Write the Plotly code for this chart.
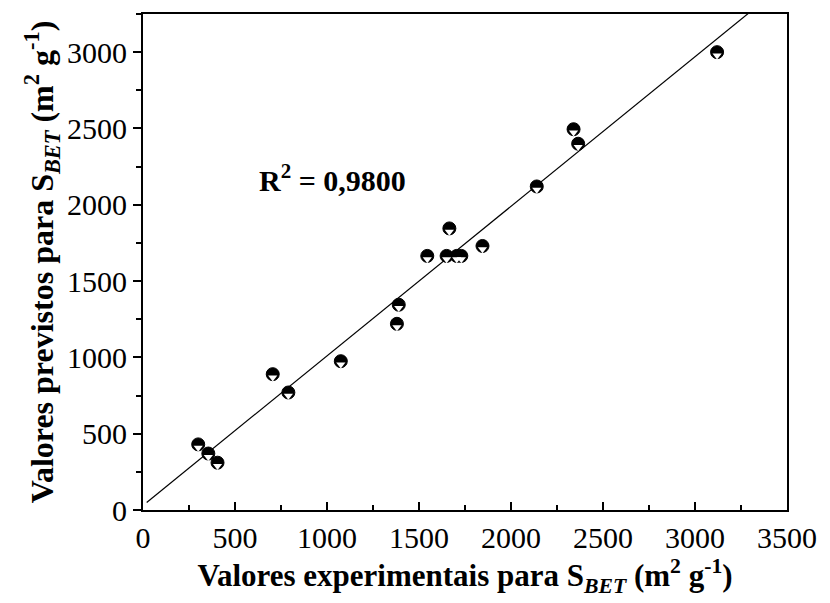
import plotly.graph_objects as go

# Data
exp_sbet = [300, 355, 405, 705, 790, 1075, 1380, 1390, 1545, 1650, 1665, 1705, 1730, 1845, 2140, 2340, 2365, 3120]
pred_sbet = [430, 370, 310, 890, 770, 975, 1220, 1345, 1665, 1665, 1845, 1665, 1665, 1730, 2120, 2495, 2400, 3000]

fit_slope = 0.98
fit_intercept = 30
fit_x = [20, 3290]
fit_y = [fit_slope * v + fit_intercept for v in fit_x]

x_ticks = [0, 500, 1000, 1500, 2000, 2500, 3000, 3500]
y_ticks = [0, 500, 1000, 1500, 2000, 2500, 3000]

Y_RANGE = [0, 3250]
MARK_SHIFT = 22  # shifts the inner white triangle slightly downward (half-filled look)

FONT = "Liberation Serif"

fig = go.Figure()
fig.add_trace(go.Scatter(x=fit_x, y=fit_y, mode="lines",
                         line=dict(color="black", width=1.2), showlegend=False))
fig.add_trace(go.Scatter(x=exp_sbet, y=pred_sbet, mode="markers",
                         marker=dict(symbol="circle", size=13, color="black",
                                     line=dict(color="black", width=1)),
                         showlegend=False))
fig.add_trace(go.Scatter(x=exp_sbet, y=pred_sbet, mode="markers", yaxis="y2",
                         marker=dict(symbol="triangle-down", size=8, color="white",
                                     line=dict(color="white", width=0)),
                         showlegend=False))

fig.add_annotation(x=620, y=2173, xref="x", yref="y", xanchor="left", yanchor="middle",
                   text="<b>R<sup>2</sup> = 0,9800</b>", showarrow=False,
                   font=dict(family=FONT, size=30, color="black"))

fig.update_layout(
    width=830, height=603,
    margin=dict(l=143, r=43, t=12, b=93),
    paper_bgcolor="white", plot_bgcolor="white",
    font=dict(family=FONT, color="black"),
    yaxis2=dict(overlaying="y", range=[Y_RANGE[0] + MARK_SHIFT, Y_RANGE[1] + MARK_SHIFT],
                visible=False, showgrid=False, zeroline=False),
)
fig.update_layout(
    xaxis=dict(
        range=[0, 3500], tickvals=x_ticks, ticktext=[str(v) for v in x_ticks],
        ticks="inside", ticklen=8, tickwidth=1.5, tickcolor="black",
        minor=dict(dtick=250, ticks="inside", ticklen=5, tickwidth=1.5, tickcolor="black"),
        showline=True, linecolor="black", linewidth=2, mirror=True,
        showgrid=False, zeroline=False,
        tickfont=dict(family=FONT, size=30, color="black"),
        title=dict(text="<b>Valores experimentais para S<sub><i>BET</i></sub> (m<sup>2</sup> g<sup>-1</sup>)</b>",
                   font=dict(family=FONT, size=31, color="black"), standoff=0),
    ),
    yaxis=dict(
        range=Y_RANGE, tickvals=y_ticks, ticktext=[str(v) for v in y_ticks],
        ticks="outside", ticklen=8, tickwidth=1.5, tickcolor="black",
        minor=dict(dtick=250, ticks="outside", ticklen=5, tickwidth=1.5, tickcolor="black"),
        showline=True, linecolor="black", linewidth=2, mirror=True,
        showgrid=False, zeroline=False,
        tickfont=dict(family=FONT, size=30, color="black"),
        title=dict(text="<b>Valores previstos para S<sub><i>BET</i></sub> (m<sup>2</sup> g<sup>-1</sup>)</b>",
                   font=dict(family=FONT, size=32, color="black"), standoff=4),
    ),
)

fig.write_html("out.html")
